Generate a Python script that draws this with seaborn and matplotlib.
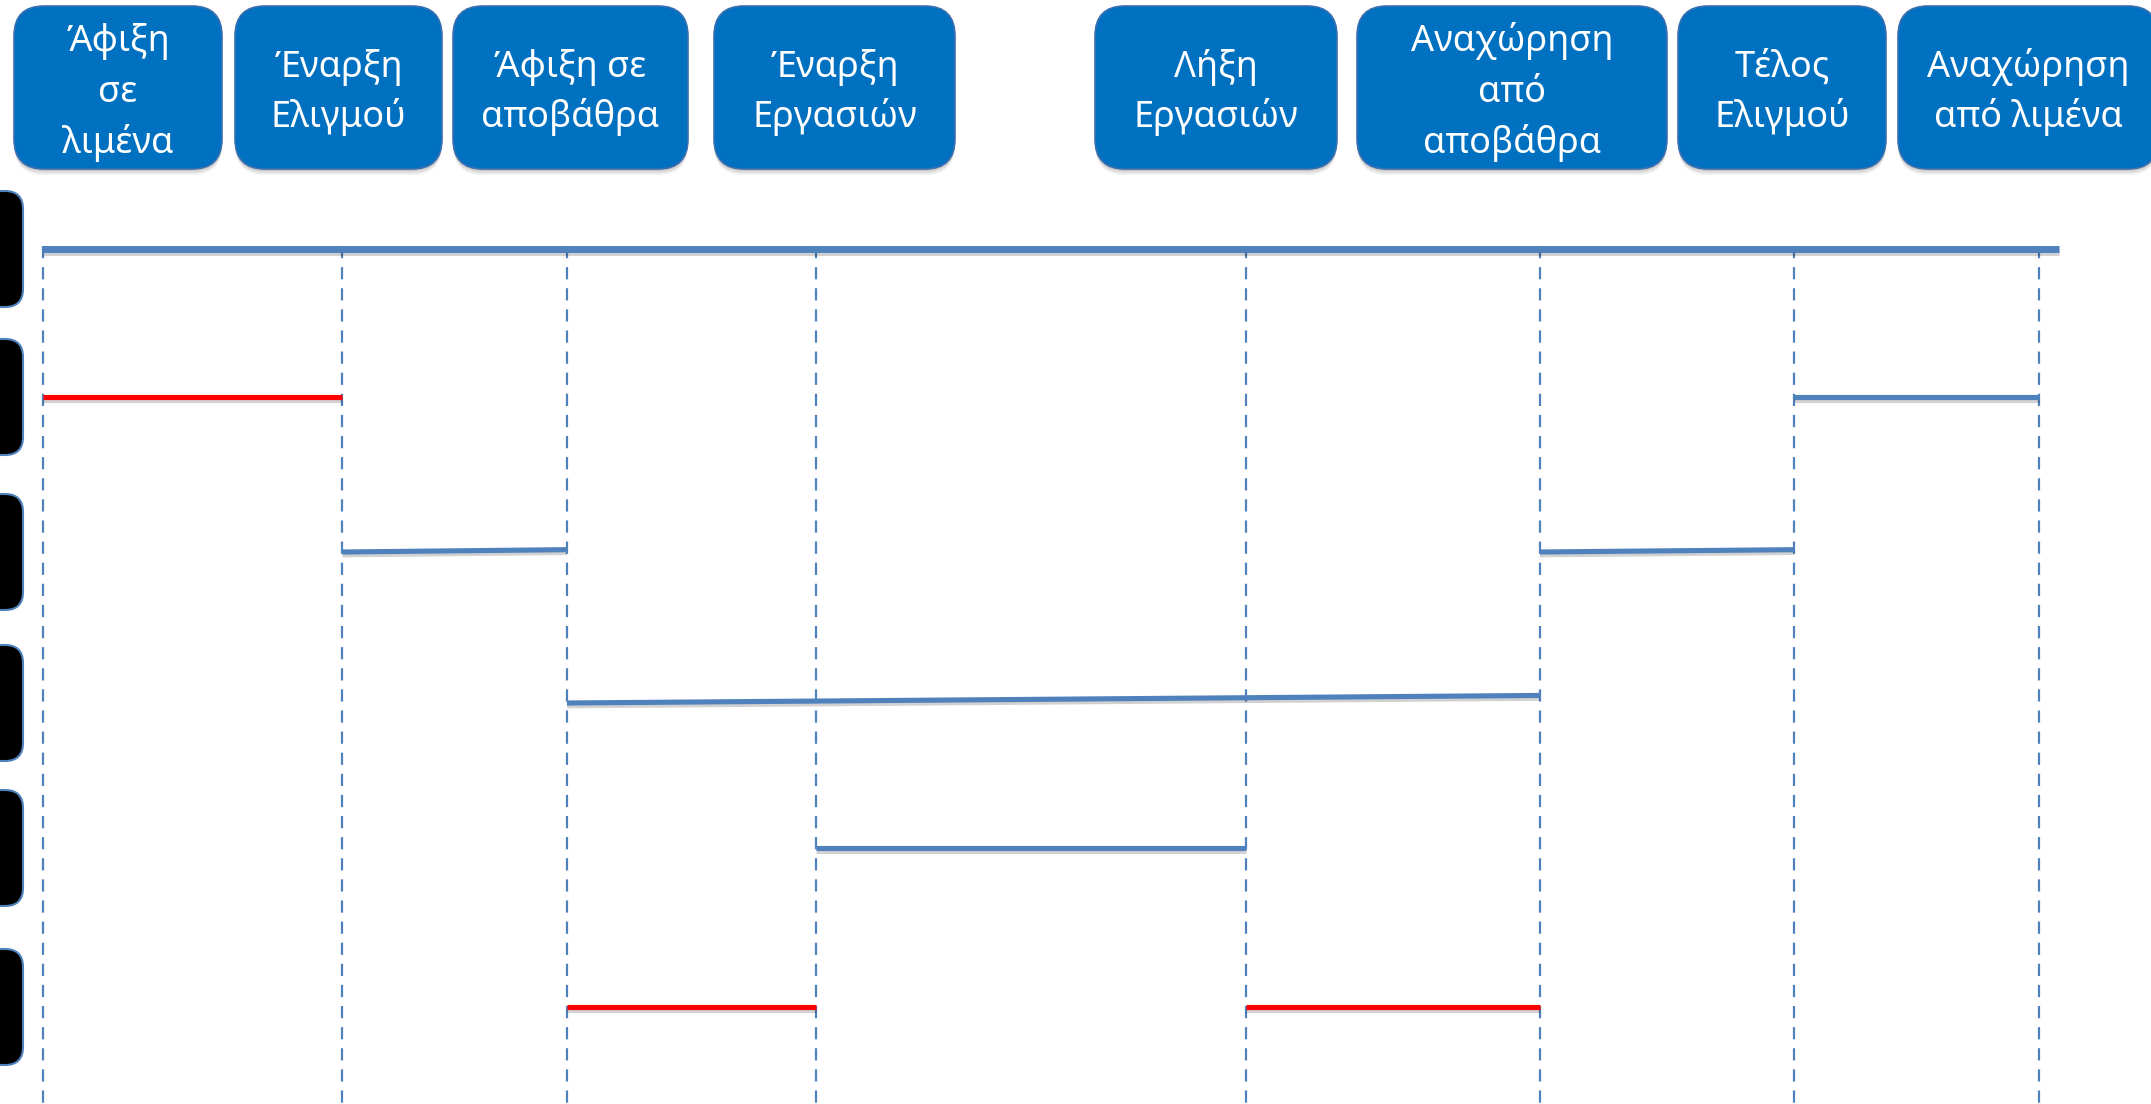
import numpy as np
import pandas as pd
import matplotlib
matplotlib.use("Agg")
import matplotlib.pyplot as plt
import matplotlib.transforms as mtransforms
import matplotlib.patheffects as pe
from matplotlib.patches import FancyBboxPatch
import seaborn as sns

# Port-call milestones (minutes after arrival at the port)
event_labels = [
    "Άφιξη\nσε\nλιμένα",
    "Έναρξη\nΕλιγμού",
    "Άφιξη σε\nαποβάθρα",
    "Έναρξη\nΕργασιών",
    "Λήξη\nΕργασιών",
    "Αναχώρηση\nαπό\nαποβάθρα",
    "Τέλος\nΕλιγμού",
    "Αναχώρηση\nαπό λιμένα",
]
event_times = [0, 30, 52.5, 77.5, 120.5, 150, 175.5, 200]
timeline_end = 202

# Stage segments: row, start milestone, end milestone, row level at the end, kind
seg_row = [1, 1, 2, 2, 3, 4, 5, 5]
seg_start = [0, 6, 1, 5, 2, 3, 2, 4]
seg_end = [1, 7, 2, 6, 5, 4, 3, 5]
seg_row_end = [1, 1, 1.985, 1.985, 2.95, 4, 5, 5]
seg_kind = ["wait", "move", "move", "move", "move", "move", "wait", "wait"]
n_rows = 6

# ---- layout (figure pixels) ----
W, H, DPI = 2151, 1104, 100
X0_PX, PX_PER_T = 43, 9.98
row_px = [249, 397, 552, 703, 848, 1007]          # vertical position of each row
box_left = [14, 235, 453, 714, 1095, 1357, 1678, 1898]
box_right = [222, 442, 688, 955, 1337, 1667, 1886, 2158]
box_top, box_bottom = 6, 169
text_mid_px, text_step_px = 102, 51               # baseline layout inside header boxes

BLUE_LINE = "#4F81BD"
RED_LINE = "#FF0000"
BOX_BLUE = "#0070C0"


def row_to_px(level):
    return np.interp(level, np.arange(n_rows), row_px)


sns.set_theme(style="white")
plt.rcParams["font.family"] = ["Noto Sans", "DejaVu Sans"]

fig = plt.figure(figsize=(W / DPI, H / DPI), dpi=DPI)
fig.patch.set_facecolor("white")
ax = fig.add_axes([0, 0, 1, 1])

shadow = [pe.SimpleLineShadow(offset=(0, -2), shadow_color="black", alpha=0.18), pe.Normal()]

# milestone guide lines
ax.vlines(event_times, row_px[0] - 3, H + 10, colors=BLUE_LINE, linestyles=(0, (5.5, 4)),
          linewidth=1.6, zorder=1)

# overall timeline
top = pd.DataFrame({"time": [0, timeline_end], "y": [row_to_px(0)] * 2})
sns.lineplot(data=top, x="time", y="y", color=BLUE_LINE, linewidth=5.0,
             estimator=None, sort=False, ax=ax, zorder=3)

# stage segments
recs = []
for i in range(len(seg_row)):
    recs.append({"seg": i, "time": event_times[seg_start[i]],
                 "y": row_to_px(seg_row[i]), "kind": seg_kind[i]})
    recs.append({"seg": i, "time": event_times[seg_end[i]],
                 "y": row_to_px(seg_row_end[i]), "kind": seg_kind[i]})
segs = pd.DataFrame(recs)
sns.lineplot(data=segs, x="time", y="y", hue="kind", units="seg", estimator=None,
             sort=False, palette={"move": BLUE_LINE, "wait": RED_LINE},
             linewidth=3.7, legend=False, ax=ax, zorder=3)

for ln in ax.lines:
    ln.set_solid_capstyle("butt")
    ln.set_path_effects(shadow)

ax.set_xlim(-X0_PX / PX_PER_T, (W - X0_PX) / PX_PER_T)
ax.set_ylim(H, 0)
ax.axis("off")

ident = mtransforms.IdentityTransform()


def rounded(x0, y0, x1, y1, r, fc, ec, lw, z):
    return FancyBboxPatch((x0 + r, y0 + r), (x1 - x0) - 2 * r, (y1 - y0) - 2 * r,
                          boxstyle=f"round,pad={r}", fc=fc, ec=ec, lw=lw,
                          transform=ident, zorder=z)


# milestone header boxes
for lbl, bl, br in zip(event_labels, box_left, box_right):
    y0, y1 = H - box_bottom, H - box_top
    for k, a in ((6, 0.06), (4, 0.08), (2, 0.10)):
        fig.add_artist(rounded(bl, y0 - k, br, y1 - k, 30, "black", "none", 0, 1)).set_alpha(a)
    fig.add_artist(rounded(bl, y0, br, y1, 30, BOX_BLUE, "#3A6FB0", 1.2, 2))
    lines = lbl.split("\n")
    n = len(lines)
    for i, line in enumerate(lines):
        base = text_mid_px + (i - (n - 1) / 2) * text_step_px
        fig.text((bl + br) / 2 / W, 1 - base / H, line,
                 ha="center", va="baseline", color="white", fontsize=26, zorder=3)

# row markers along the left edge
fig.canvas.draw()
for r in range(n_rows):
    yc = ax.transData.transform((0, row_to_px(r)))[1]
    fig.add_artist(rounded(-40, yc - 58, 23, yc + 58, 18, "black", BLUE_LINE, 1.5, 2))

fig.savefig("out.png", dpi=DPI, facecolor="white")
